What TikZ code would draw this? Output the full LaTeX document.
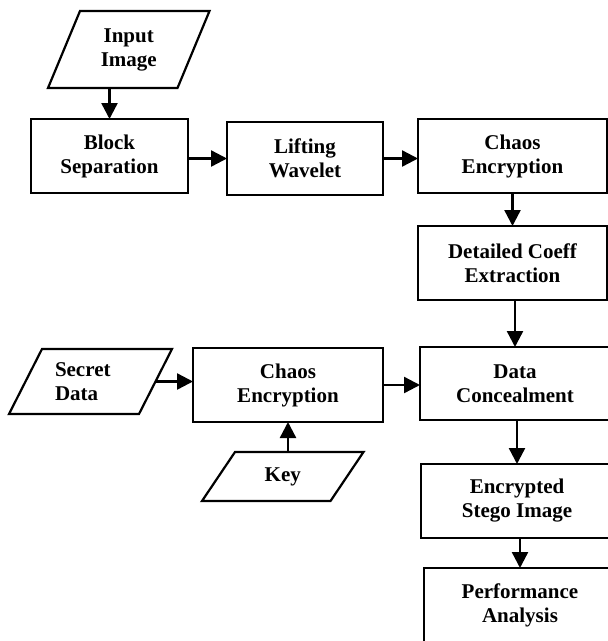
\documentclass[tikz,border=0pt]{standalone}
\usepackage{fontspec}
\setmainfont{Liberation Serif}
\usetikzlibrary{arrows.meta}
\begin{document}
\begin{tikzpicture}[x=1pt,y=-1pt,
  every node/.style={inner sep=0pt, outer sep=0pt, font=\fontsize{21}{24}\selectfont\bfseries, align=center},
  procbox/.style={draw, line width=2.2pt, minimum width=#1, minimum height=74pt},
  iobox/.style={draw=none},
  conn/.style={line width=2.4pt, -{Triangle[length=16pt,width=16pt]}},
  iopath/.style={line width=2.2pt, line join=miter}
]
\useasboundingbox (0,0) rectangle (608,641);
\clip (0,0) rectangle (608,641);

% input/output shapes (text holders)
\node[iobox, minimum width=129.5pt, minimum height=77pt] (inp) at (128.75,49.5) {Input\\Image};
\node[iobox, minimum height=65pt, text width=71pt, inner xsep=29.5pt, align=left] (sec) at (90.5,381.5) {Secret\\Data};
\node[iobox, minimum width=128.5pt, minimum height=49pt] (key) at (282.75,476.5) {Key};

% parallelogram outlines
\draw[iopath] ([xshift=16pt]inp.north west) -- ([xshift=16pt]inp.north east) -- ([xshift=-16pt]inp.south east) -- ([xshift=-16pt]inp.south west) -- cycle;
\draw[iopath] ([xshift=16.5pt]sec.north west) -- ([xshift=16.5pt]sec.north east) -- ([xshift=-16.5pt]sec.south east) -- ([xshift=-16.5pt]sec.south west) -- cycle;
\draw[iopath] ([xshift=16.5pt]key.north west) -- ([xshift=16.5pt]key.north east) -- ([xshift=-16.5pt]key.south east) -- ([xshift=-16.5pt]key.south west) -- cycle;

% process boxes
\node[procbox=157pt] (blk) at (109.5,156) {Block\\Separation};
\node[procbox=156pt, minimum height=73pt] (lift) at (305,158.5) {Lifting\\Wavelet};
\node[procbox=189pt] (ch1) at (512.5,156) {Chaos\\Encryption};
\node[procbox=189pt] (det) at (512.5,263) {Detailed Coeff\\Extraction};
\node[procbox=190pt] (ch2) at (288,385) {Chaos\\Encryption};
\node[procbox=190pt, minimum height=73pt] (dc) at (515,383.5) {Data\\Concealment};
\node[procbox=192pt] (esi) at (517,501) {Encrypted\\Stego Image};
\node[procbox=192pt] (pa) at (520,605) {Performance\\Analysis};

% connectors
\draw[conn] (inp.south -| blk.north) -- (blk.north);
\draw[conn] (blk.east |- lift.west) -- (lift.west);
\draw[conn] (lift.east) -- (lift.east -| ch1.west);
\draw[conn] (ch1.south) -- (det.north);
\draw[conn] (dc.north |- det.south) -- (dc.north);
\draw[conn] (sec.east) -- (sec.east -| ch2.west);
\draw[conn] (key.north -| ch2.south) -- (ch2.south);
\draw[conn] (ch2.east) -- (ch2.east -| dc.west);
\draw[conn] (esi.north |- dc.south) -- (esi.north);
\draw[conn] (pa.north |- esi.south) -- (pa.north);
\end{tikzpicture}
\end{document}
